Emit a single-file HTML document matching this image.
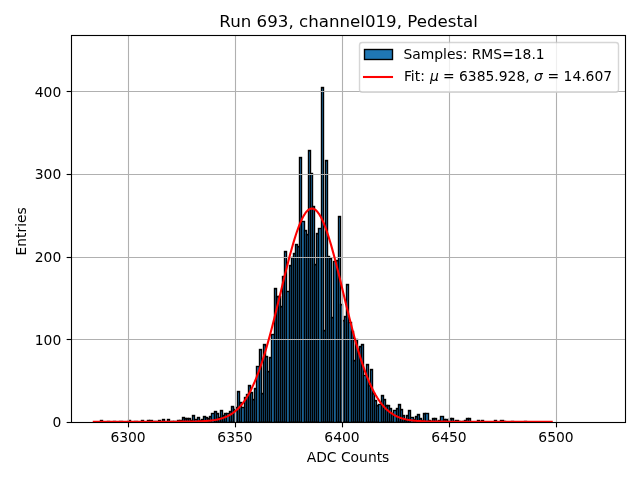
<!DOCTYPE html>
<html lang="en"><head><meta charset="utf-8"><title>Run 693, channel019, Pedestal</title>
<style>html,body{margin:0;padding:0;background:#fff;overflow:hidden}svg text{white-space:pre}</style></head>
<body>
<svg width="640" height="480" viewBox="0 0 640 480" style="display:block">
<rect width="640" height="480" fill="#fff"/>
<defs><clipPath id="ax"><rect x="71" y="35" width="554" height="387"/></clipPath></defs>
<g clip-path="url(#ax)" fill="#1f77b4" stroke="#000" stroke-width="1.3889" stroke-linejoin="miter">
<rect x="96.5" y="422.5" width="2" height="0"/>
<rect x="98.5" y="422.5" width="2" height="0"/>
<rect x="100.5" y="420.5" width="2" height="2"/>
<rect x="102.5" y="422.5" width="3" height="0"/>
<rect x="105.5" y="422.5" width="2" height="0"/>
<rect x="107.5" y="421.5" width="2" height="1"/>
<rect x="109.5" y="422.5" width="2" height="0"/>
<rect x="111.5" y="422.5" width="2" height="0"/>
<rect x="113.5" y="421.5" width="2" height="1"/>
<rect x="115.5" y="422.5" width="2" height="0"/>
<rect x="117.5" y="422.5" width="2" height="0"/>
<rect x="119.5" y="421.5" width="3" height="1"/>
<rect x="122.5" y="422.5" width="2" height="0"/>
<rect x="124.5" y="422.5" width="2" height="0"/>
<rect x="126.5" y="422.5" width="2" height="0"/>
<rect x="128.5" y="420.5" width="2" height="2"/>
<rect x="130.5" y="422.5" width="2" height="0"/>
<rect x="132.5" y="422.5" width="2" height="0"/>
<rect x="134.5" y="421.5" width="3" height="1"/>
<rect x="137.5" y="422.5" width="2" height="0"/>
<rect x="139.5" y="422.5" width="2" height="0"/>
<rect x="141.5" y="420.5" width="2" height="2"/>
<rect x="143.5" y="422.5" width="2" height="0"/>
<rect x="145.5" y="422.5" width="2" height="0"/>
<rect x="147.5" y="420.5" width="2" height="2"/>
<rect x="149.5" y="420.5" width="3" height="2"/>
<rect x="152.5" y="422.5" width="2" height="0"/>
<rect x="154.5" y="421.5" width="2" height="1"/>
<rect x="156.5" y="422.5" width="2" height="0"/>
<rect x="158.5" y="420.5" width="2" height="2"/>
<rect x="160.5" y="422.5" width="2" height="0"/>
<rect x="162.5" y="419.5" width="2" height="3"/>
<rect x="164.5" y="422.5" width="3" height="0"/>
<rect x="167.5" y="419.5" width="2" height="3"/>
<rect x="169.5" y="422.5" width="2" height="0"/>
<rect x="171.5" y="421.5" width="2" height="1"/>
<rect x="173.5" y="421.5" width="2" height="1"/>
<rect x="175.5" y="422.5" width="2" height="0"/>
<rect x="177.5" y="420.5" width="2" height="2"/>
<rect x="179.5" y="420.5" width="3" height="2"/>
<rect x="182.5" y="417.5" width="2" height="5"/>
<rect x="184.5" y="418.5" width="2" height="4"/>
<rect x="186.5" y="418.5" width="2" height="4"/>
<rect x="188.5" y="418.5" width="2" height="4"/>
<rect x="190.5" y="420.5" width="2" height="2"/>
<rect x="192.5" y="415.5" width="2" height="7"/>
<rect x="194.5" y="419.5" width="3" height="3"/>
<rect x="197.5" y="417.5" width="2" height="5"/>
<rect x="199.5" y="420.5" width="2" height="2"/>
<rect x="201.5" y="419.5" width="2" height="3"/>
<rect x="203.5" y="416.5" width="2" height="6"/>
<rect x="205.5" y="417.5" width="2" height="5"/>
<rect x="207.5" y="418.5" width="2" height="4"/>
<rect x="209.5" y="416.5" width="2" height="6"/>
<rect x="211.5" y="413.5" width="3" height="9"/>
<rect x="214.5" y="411.5" width="2" height="11"/>
<rect x="216.5" y="413.5" width="2" height="9"/>
<rect x="218.5" y="417.5" width="2" height="5"/>
<rect x="220.5" y="410.5" width="2" height="12"/>
<rect x="222.5" y="415.5" width="2" height="7"/>
<rect x="224.5" y="413.5" width="2" height="9"/>
<rect x="226.5" y="413.5" width="3" height="9"/>
<rect x="229.5" y="411.5" width="2" height="11"/>
<rect x="231.5" y="406.5" width="2" height="16"/>
<rect x="233.5" y="409.5" width="2" height="13"/>
<rect x="235.5" y="407.5" width="2" height="15"/>
<rect x="237.5" y="391.5" width="2" height="31"/>
<rect x="239.5" y="402.5" width="2" height="20"/>
<rect x="241.5" y="407.5" width="3" height="15"/>
<rect x="244.5" y="397.5" width="2" height="25"/>
<rect x="246.5" y="394.5" width="2" height="28"/>
<rect x="248.5" y="385.5" width="2" height="37"/>
<rect x="250.5" y="392.5" width="2" height="30"/>
<rect x="252.5" y="399.5" width="2" height="23"/>
<rect x="254.5" y="388.5" width="2" height="34"/>
<rect x="256.5" y="366.5" width="3" height="56"/>
<rect x="259.5" y="349.5" width="2" height="73"/>
<rect x="261.5" y="393.5" width="2" height="29"/>
<rect x="263.5" y="344.5" width="2" height="78"/>
<rect x="265.5" y="356.5" width="2" height="66"/>
<rect x="267.5" y="371.5" width="2" height="51"/>
<rect x="269.5" y="357.5" width="2" height="65"/>
<rect x="271.5" y="334.5" width="3" height="88"/>
<rect x="274.5" y="288.5" width="2" height="134"/>
<rect x="276.5" y="296.5" width="2" height="126"/>
<rect x="278.5" y="296.5" width="2" height="126"/>
<rect x="280.5" y="306.5" width="2" height="116"/>
<rect x="282.5" y="276.5" width="2" height="146"/>
<rect x="284.5" y="251.5" width="2" height="171"/>
<rect x="286.5" y="291.5" width="3" height="131"/>
<rect x="289.5" y="265.5" width="2" height="157"/>
<rect x="291.5" y="257.5" width="2" height="165"/>
<rect x="293.5" y="253.5" width="2" height="169"/>
<rect x="295.5" y="244.5" width="2" height="178"/>
<rect x="297.5" y="246.5" width="2" height="176"/>
<rect x="299.5" y="157.5" width="2" height="265"/>
<rect x="301.5" y="221.5" width="3" height="201"/>
<rect x="304.5" y="230.5" width="2" height="192"/>
<rect x="306.5" y="234.5" width="2" height="188"/>
<rect x="308.5" y="150.5" width="2" height="272"/>
<rect x="310.5" y="173.5" width="2" height="249"/>
<rect x="312.5" y="206.5" width="2" height="216"/>
<rect x="314.5" y="264.5" width="2" height="158"/>
<rect x="316.5" y="233.5" width="2" height="189"/>
<rect x="318.5" y="228.5" width="3" height="194"/>
<rect x="321.5" y="87.5" width="2" height="335"/>
<rect x="323.5" y="330.5" width="2" height="92"/>
<rect x="325.5" y="160.5" width="2" height="262"/>
<rect x="327.5" y="256.5" width="2" height="166"/>
<rect x="329.5" y="258.5" width="2" height="164"/>
<rect x="331.5" y="317.5" width="2" height="105"/>
<rect x="333.5" y="261.5" width="3" height="161"/>
<rect x="336.5" y="260.5" width="2" height="162"/>
<rect x="338.5" y="216.5" width="2" height="206"/>
<rect x="340.5" y="304.5" width="2" height="118"/>
<rect x="342.5" y="320.5" width="2" height="102"/>
<rect x="344.5" y="316.5" width="2" height="106"/>
<rect x="346.5" y="284.5" width="2" height="138"/>
<rect x="348.5" y="322.5" width="3" height="100"/>
<rect x="351.5" y="331.5" width="2" height="91"/>
<rect x="353.5" y="360.5" width="2" height="62"/>
<rect x="355.5" y="339.5" width="2" height="83"/>
<rect x="357.5" y="349.5" width="2" height="73"/>
<rect x="359.5" y="346.5" width="2" height="76"/>
<rect x="361.5" y="344.5" width="2" height="78"/>
<rect x="363.5" y="375.5" width="3" height="47"/>
<rect x="366.5" y="364.5" width="2" height="58"/>
<rect x="368.5" y="385.5" width="2" height="37"/>
<rect x="370.5" y="369.5" width="2" height="53"/>
<rect x="372.5" y="393.5" width="2" height="29"/>
<rect x="374.5" y="400.5" width="2" height="22"/>
<rect x="376.5" y="405.5" width="2" height="17"/>
<rect x="378.5" y="404.5" width="3" height="18"/>
<rect x="381.5" y="395.5" width="2" height="27"/>
<rect x="383.5" y="399.5" width="2" height="23"/>
<rect x="385.5" y="405.5" width="2" height="17"/>
<rect x="387.5" y="405.5" width="2" height="17"/>
<rect x="389.5" y="408.5" width="2" height="14"/>
<rect x="391.5" y="413.5" width="2" height="9"/>
<rect x="393.5" y="410.5" width="3" height="12"/>
<rect x="396.5" y="408.5" width="2" height="14"/>
<rect x="398.5" y="404.5" width="2" height="18"/>
<rect x="400.5" y="409.5" width="2" height="13"/>
<rect x="402.5" y="415.5" width="2" height="7"/>
<rect x="404.5" y="420.5" width="2" height="2"/>
<rect x="406.5" y="415.5" width="2" height="7"/>
<rect x="408.5" y="410.5" width="2" height="12"/>
<rect x="410.5" y="417.5" width="3" height="5"/>
<rect x="413.5" y="419.5" width="2" height="3"/>
<rect x="415.5" y="416.5" width="2" height="6"/>
<rect x="417.5" y="414.5" width="2" height="8"/>
<rect x="419.5" y="418.5" width="2" height="4"/>
<rect x="421.5" y="420.5" width="2" height="2"/>
<rect x="423.5" y="413.5" width="2" height="9"/>
<rect x="425.5" y="413.5" width="3" height="9"/>
<rect x="428.5" y="420.5" width="2" height="2"/>
<rect x="430.5" y="421.5" width="2" height="1"/>
<rect x="432.5" y="418.5" width="2" height="4"/>
<rect x="434.5" y="418.5" width="2" height="4"/>
<rect x="436.5" y="421.5" width="2" height="1"/>
<rect x="438.5" y="420.5" width="2" height="2"/>
<rect x="440.5" y="416.5" width="3" height="6"/>
<rect x="443.5" y="419.5" width="2" height="3"/>
<rect x="445.5" y="419.5" width="2" height="3"/>
<rect x="447.5" y="421.5" width="2" height="1"/>
<rect x="449.5" y="418.5" width="2" height="4"/>
<rect x="451.5" y="418.5" width="2" height="4"/>
<rect x="453.5" y="421.5" width="2" height="1"/>
<rect x="455.5" y="420.5" width="3" height="2"/>
<rect x="458.5" y="421.5" width="2" height="1"/>
<rect x="460.5" y="422.5" width="2" height="0"/>
<rect x="462.5" y="421.5" width="2" height="1"/>
<rect x="464.5" y="420.5" width="2" height="2"/>
<rect x="466.5" y="418.5" width="2" height="4"/>
<rect x="468.5" y="418.5" width="2" height="4"/>
<rect x="470.5" y="422.5" width="3" height="0"/>
<rect x="473.5" y="422.5" width="2" height="0"/>
<rect x="475.5" y="422.5" width="2" height="0"/>
<rect x="477.5" y="420.5" width="2" height="2"/>
<rect x="479.5" y="422.5" width="2" height="0"/>
<rect x="481.5" y="420.5" width="2" height="2"/>
<rect x="483.5" y="422.5" width="2" height="0"/>
<rect x="485.5" y="422.5" width="3" height="0"/>
<rect x="488.5" y="422.5" width="2" height="0"/>
<rect x="490.5" y="422.5" width="2" height="0"/>
<rect x="492.5" y="422.5" width="2" height="0"/>
<rect x="494.5" y="420.5" width="2" height="2"/>
<rect x="496.5" y="422.5" width="2" height="0"/>
<rect x="498.5" y="422.5" width="2" height="0"/>
<rect x="500.5" y="420.5" width="3" height="2"/>
<rect x="503.5" y="421.5" width="2" height="1"/>
<rect x="505.5" y="422.5" width="2" height="0"/>
<rect x="507.5" y="422.5" width="2" height="0"/>
<rect x="509.5" y="422.5" width="2" height="0"/>
<rect x="511.5" y="421.5" width="2" height="1"/>
<rect x="513.5" y="422.5" width="2" height="0"/>
<rect x="515.5" y="422.5" width="2" height="0"/>
<rect x="517.5" y="422.5" width="3" height="0"/>
<rect x="520.5" y="422.5" width="2" height="0"/>
<rect x="522.5" y="422.5" width="2" height="0"/>
<rect x="524.5" y="421.5" width="2" height="1"/>
<rect x="526.5" y="422.5" width="2" height="0"/>
<rect x="528.5" y="422.5" width="2" height="0"/>
<rect x="530.5" y="422.5" width="2" height="0"/>
<rect x="532.5" y="422.5" width="3" height="0"/>
<rect x="535.5" y="422.5" width="2" height="0"/>
<rect x="537.5" y="422.5" width="2" height="0"/>
<rect x="539.5" y="422.5" width="2" height="0"/>
<rect x="541.5" y="422.5" width="2" height="0"/>
<rect x="543.5" y="422.5" width="2" height="0"/>
<rect x="545.5" y="422.5" width="2" height="0"/>
<rect x="547.5" y="422.5" width="3" height="0"/>
<rect x="550.5" y="422.5" width="2" height="0"/>
<rect x="552.5" y="422.5" width="2" height="0"/>
<rect x="554.5" y="422.5" width="2" height="0"/>
<rect x="556.5" y="422.5" width="2" height="0"/>
<rect x="558.5" y="422.5" width="2" height="0"/>
<rect x="560.5" y="422.5" width="2" height="0"/>
<rect x="562.5" y="422.5" width="3" height="0"/>
<rect x="565.5" y="422.5" width="2" height="0"/>
<rect x="567.5" y="422.5" width="2" height="0"/>
<rect x="569.5" y="422.5" width="2" height="0"/>
<rect x="571.5" y="422.5" width="2" height="0"/>
<rect x="573.5" y="422.5" width="2" height="0"/>
<rect x="575.5" y="422.5" width="2" height="0"/>
<rect x="577.5" y="422.5" width="3" height="0"/>
<rect x="580.5" y="422.5" width="2" height="0"/>
<rect x="582.5" y="422.5" width="2" height="0"/>
<rect x="584.5" y="422.5" width="2" height="0"/>
<rect x="586.5" y="422.5" width="2" height="0"/>
<rect x="588.5" y="422.5" width="2" height="0"/>
<rect x="590.5" y="422.5" width="2" height="0"/>
<rect x="592.5" y="422.5" width="3" height="0"/>
<rect x="595.5" y="422.5" width="2" height="0"/>
<rect x="597.5" y="422.5" width="2" height="0"/>
<rect x="599.5" y="422.5" width="2" height="0"/>
</g>
<g clip-path="url(#ax)" stroke="#b0b0b0" stroke-width="1.1111" fill="none">
<line x1="128.5" y1="422" x2="128.5" y2="35"/>
<line x1="235.5" y1="422" x2="235.5" y2="35"/>
<line x1="342.5" y1="422" x2="342.5" y2="35"/>
<line x1="449.5" y1="422" x2="449.5" y2="35"/>
<line x1="556.5" y1="422" x2="556.5" y2="35"/>
<line x1="71" y1="422.5" x2="625" y2="422.5"/>
<line x1="71" y1="339.5" x2="625" y2="339.5"/>
<line x1="71" y1="257.5" x2="625" y2="257.5"/>
<line x1="71" y1="174.5" x2="625" y2="174.5"/>
<line x1="71" y1="91.5" x2="625" y2="91.5"/>
</g>
<g stroke="#000" stroke-width="1.1111" fill="none">
<line x1="128.5" y1="422.5" x2="128.5" y2="427.361"/>
<line x1="235.5" y1="422.5" x2="235.5" y2="427.361"/>
<line x1="342.5" y1="422.5" x2="342.5" y2="427.361"/>
<line x1="449.5" y1="422.5" x2="449.5" y2="427.361"/>
<line x1="556.5" y1="422.5" x2="556.5" y2="427.361"/>
<line x1="71.5" y1="422.5" x2="66.639" y2="422.5"/>
<line x1="71.5" y1="339.5" x2="66.639" y2="339.5"/>
<line x1="71.5" y1="257.5" x2="66.639" y2="257.5"/>
<line x1="71.5" y1="174.5" x2="66.639" y2="174.5"/>
<line x1="71.5" y1="91.5" x2="66.639" y2="91.5"/>
</g>
<g font-family="'DejaVu Sans','Liberation Sans',sans-serif" font-size="13.889px" fill="#000">
<text x="128.04" y="442.0" text-anchor="middle">6300</text>
<text x="235.03" y="442.0" text-anchor="middle">6350</text>
<text x="342.02" y="442.0" text-anchor="middle">6400</text>
<text x="449.01" y="442.0" text-anchor="middle">6450</text>
<text x="556.00" y="442.0" text-anchor="middle">6500</text>
<text x="61.28" y="427" text-anchor="end">0</text>
<text x="61.28" y="345" text-anchor="end">100</text>
<text x="61.28" y="262" text-anchor="end">200</text>
<text x="61.28" y="179" text-anchor="end">300</text>
<text x="61.28" y="97" text-anchor="end">400</text>
<text x="348" y="462.0" text-anchor="middle">ADC Counts</text>
<text transform="translate(26.2 231.4) rotate(-90)" text-anchor="middle">Entries</text>
</g>
<polyline clip-path="url(#ax)" points="93.80,421.69 95.33,421.69 96.87,421.69 98.40,421.69 99.93,421.69 101.46,421.69 102.99,421.69 104.52,421.69 106.06,421.69 107.59,421.69 109.12,421.69 110.65,421.69 112.18,421.69 113.71,421.69 115.24,421.69 116.78,421.69 118.31,421.69 119.84,421.69 121.37,421.69 122.90,421.69 124.43,421.69 125.96,421.69 127.50,421.69 129.03,421.69 130.56,421.69 132.09,421.69 133.62,421.69 135.15,421.69 136.69,421.69 138.22,421.69 139.75,421.69 141.28,421.69 142.81,421.69 144.34,421.69 145.87,421.69 147.41,421.69 148.94,421.69 150.47,421.69 152.00,421.69 153.53,421.68 155.06,421.68 156.59,421.68 158.13,421.68 159.66,421.68 161.19,421.68 162.72,421.68 164.25,421.68 165.78,421.68 167.31,421.68 168.85,421.68 170.38,421.68 171.91,421.68 173.44,421.67 174.97,421.67 176.50,421.67 178.04,421.66 179.57,421.66 181.10,421.65 182.63,421.64 184.16,421.64 185.69,421.62 187.22,421.61 188.76,421.59 190.29,421.58 191.82,421.55 193.35,421.53 194.88,421.49 196.41,421.45 197.94,421.41 199.48,421.36 201.01,421.29 202.54,421.22 204.07,421.13 205.60,421.03 207.13,420.91 208.67,420.77 210.20,420.62 211.73,420.43 213.26,420.22 214.79,419.98 216.32,419.70 217.85,419.38 219.39,419.02 220.92,418.61 222.45,418.14 223.98,417.61 225.51,417.01 227.04,416.34 228.57,415.59 230.11,414.75 231.64,413.81 233.17,412.76 234.70,411.60 236.23,410.31 237.76,408.90 239.30,407.34 240.83,405.63 242.36,403.76 243.89,401.72 245.42,399.49 246.95,397.09 248.48,394.48 250.02,391.67 251.55,388.66 253.08,385.42 254.61,381.97 256.14,378.29 257.67,374.38 259.20,370.24 260.74,365.88 262.27,361.29 263.80,356.48 265.33,351.46 266.86,346.23 268.39,340.80 269.93,335.20 271.46,329.42 272.99,323.50 274.52,317.45 276.05,311.29 277.58,305.05 279.11,298.74 280.65,292.41 282.18,286.08 283.71,279.78 285.24,273.55 286.77,267.41 288.30,261.40 289.83,255.56 291.37,249.91 292.90,244.51 294.43,239.37 295.96,234.53 297.49,230.02 299.02,225.87 300.56,222.12 302.09,218.78 303.62,215.87 305.15,213.43 306.68,211.47 308.21,209.99 309.74,209.02 311.28,208.55 312.81,208.59 314.34,209.15 315.87,210.21 317.40,211.77 318.93,213.82 320.46,216.34 322.00,219.32 323.53,222.74 325.06,226.56 326.59,230.77 328.12,235.34 329.65,240.23 331.19,245.42 332.72,250.88 334.25,256.56 335.78,262.43 337.31,268.46 338.84,274.62 340.37,280.87 341.91,287.18 343.44,293.51 344.97,299.84 346.50,306.13 348.03,312.36 349.56,318.50 351.09,324.54 352.63,330.43 354.16,336.18 355.69,341.75 357.22,347.15 358.75,352.34 360.28,357.33 361.81,362.10 363.35,366.65 364.88,370.97 366.41,375.07 367.94,378.94 369.47,382.58 371.00,386.00 372.54,389.19 374.07,392.18 375.60,394.95 377.13,397.52 378.66,399.89 380.19,402.08 381.72,404.09 383.26,405.94 384.79,407.62 386.32,409.15 387.85,410.55 389.38,411.81 390.91,412.95 392.44,413.98 393.98,414.90 395.51,415.72 397.04,416.46 398.57,417.12 400.10,417.71 401.63,418.22 403.17,418.68 404.70,419.09 406.23,419.44 407.76,419.75 409.29,420.02 410.82,420.26 412.35,420.47 413.89,420.64 415.42,420.80 416.95,420.93 418.48,421.05 420.01,421.15 421.54,421.23 423.07,421.30 424.61,421.37 426.14,421.42 427.67,421.46 429.20,421.50 430.73,421.53 432.26,421.56 433.80,421.58 435.33,421.60 436.86,421.61 438.39,421.63 439.92,421.64 441.45,421.65 442.98,421.65 444.52,421.66 446.05,421.66 447.58,421.67 449.11,421.67 450.64,421.67 452.17,421.68 453.70,421.68 455.24,421.68 456.77,421.68 458.30,421.68 459.83,421.68 461.36,421.68 462.89,421.68 464.43,421.68 465.96,421.68 467.49,421.68 469.02,421.68 470.55,421.69 472.08,421.69 473.61,421.69 475.15,421.69 476.68,421.69 478.21,421.69 479.74,421.69 481.27,421.69 482.80,421.69 484.33,421.69 485.87,421.69 487.40,421.69 488.93,421.69 490.46,421.69 491.99,421.69 493.52,421.69 495.06,421.69 496.59,421.69 498.12,421.69 499.65,421.69 501.18,421.69 502.71,421.69 504.24,421.69 505.78,421.69 507.31,421.69 508.84,421.69 510.37,421.69 511.90,421.69 513.43,421.69 514.96,421.69 516.50,421.69 518.03,421.69 519.56,421.69 521.09,421.69 522.62,421.69 524.15,421.69 525.68,421.69 527.22,421.69 528.75,421.69 530.28,421.69 531.81,421.69 533.34,421.69 534.87,421.69 536.41,421.69 537.94,421.69 539.47,421.69 541.00,421.69 542.53,421.69 544.06,421.69 545.59,421.69 547.13,421.69 548.66,421.69 550.19,421.69 551.72,421.69" fill="none" stroke="#f00" stroke-width="2.0833" stroke-linecap="square" stroke-linejoin="round"/>
<rect x="71.5" y="35.5" width="554" height="387" fill="none" stroke="#000" stroke-width="1.1111" stroke-linejoin="miter"/>
<text x="348.6" y="26.67" text-anchor="middle" font-family="'DejaVu Sans','Liberation Sans',sans-serif" font-size="16.667px" fill="#000">Run 693, channel019, Pedestal</text>
<rect x="359.5" y="42.5" width="259.0" height="49.8" rx="2.78" ry="2.78" fill="#fff" stroke="#ccc" stroke-width="1.3889" opacity="0.8"/>
<rect x="364.5" y="49.5" width="28.0" height="10.0" fill="#1f77b4" stroke="#000" stroke-width="1.3889"/>
<line x1="364.0" y1="77.0" x2="392.0" y2="77.0" stroke="#f00" stroke-width="2.0833" stroke-linecap="square"/>
<g font-family="'DejaVu Sans','Liberation Sans',sans-serif" font-size="13.889px" fill="#000">
<text x="403.4" y="59.05">Samples: RMS=18.1</text>
<text x="403.9" y="81.3">Fit: <tspan font-style="oblique" dx="0.8">μ</tspan><tspan dx="-0.3"> = 6385.928, </tspan><tspan font-style="oblique">σ</tspan><tspan dx="0.25"> = 14.607</tspan></text>
</g>
</svg>
</body></html>
